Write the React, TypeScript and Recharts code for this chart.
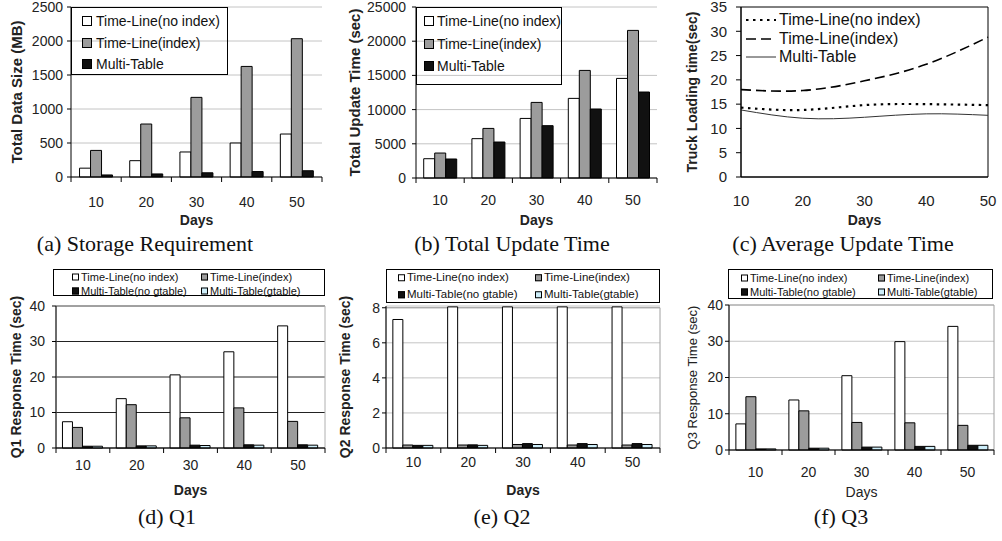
import {
  BarChart,
  Bar,
  LineChart,
  Line,
  XAxis,
  YAxis,
  CartesianGrid,
  ReferenceArea,
} from "recharts";

const FONT = '"Liberation Sans", Arial, Helvetica, sans-serif';
const SERIF = '"Liberation Serif", "Times New Roman", serif';

const WHITE = "#ffffff";
const GRAY = "#9c9c9c";
const BLACK = "#111111";
const BLUE = "#cdeefa";

const DAYS = ["10", "20", "30", "40", "50"];
const LINE_DAYS = [10, 20, 30, 40, 50];

// (a) storage requirement, MB
const sizeNoIndex = [130, 240, 368, 500, 632];
const sizeIndex = [391, 779, 1171, 1626, 2034];
const sizeMulti = [30, 45, 62, 80, 92];

// (b) total update time, sec
const updNoIndex = [2820, 5750, 8710, 11640, 14560];
const updIndex = [3650, 7250, 11050, 15730, 21580];
const updMulti = [2780, 5260, 7650, 10090, 12570];

// (c) truck loading time, sec
const truckNoIndex = [14.3, 13.8, 14.8, 15.0, 14.8];
const truckIndex = [18.0, 17.8, 19.8, 23.2, 28.8];
const truckMulti = [13.8, 12.1, 12.3, 13.0, 12.7];

// (d) Q1 response time, sec
const q1NoIndex = [7.4, 13.9, 20.6, 27.1, 34.4];
const q1Index = [5.8, 12.2, 8.5, 11.3, 7.5];
const q1NoGtable = [0.5, 0.6, 0.8, 0.9, 0.9];
const q1Gtable = [0.5, 0.6, 0.7, 0.8, 0.8];

// (e) Q2 response time, sec
const q2NoIndex = [7.33, 8.05, 8.05, 8.05, 8.05];
const q2Index = [0.17, 0.17, 0.2, 0.17, 0.17];
const q2NoGtable = [0.15, 0.18, 0.25, 0.25, 0.25];
const q2Gtable = [0.15, 0.15, 0.2, 0.2, 0.2];

// (f) Q3 response time, sec
const q3NoIndex = [7.2, 13.8, 20.5, 29.9, 34.1];
const q3Index = [14.7, 10.8, 7.6, 7.5, 6.8];
const q3NoGtable = [0.3, 0.5, 0.8, 1.0, 1.3];
const q3Gtable = [0.3, 0.5, 0.8, 1.0, 1.3];

const sizeTicks = [0, 500, 1000, 1500, 2000, 2500];
const updTicks = [0, 5000, 10000, 15000, 20000, 25000];
const truckTicks = [0, 5, 10, 15, 20, 25, 30, 35];
const q13Ticks = [0, 10, 20, 30, 40];
const q2Ticks = [0, 2, 4, 6, 8];

const SERIES3 = [
  { key: "noIndex", name: "Time-Line(no index)", fill: WHITE },
  { key: "index", name: "Time-Line(index)", fill: GRAY },
  { key: "multi", name: "Multi-Table", fill: BLACK },
];

const SERIES4 = [
  { key: "noIndex", name: "Time-Line(no index)", fill: WHITE },
  { key: "index", name: "Time-Line(index)", fill: GRAY },
  { key: "noGtable", name: "Multi-Table(no gtable)", fill: BLACK },
  { key: "gtable", name: "Multi-Table(gtable)", fill: BLUE },
];

function rows3(a: number[], b: number[], c: number[]) {
  return DAYS.map((day, i) => ({ day, noIndex: a[i], index: b[i], multi: c[i] }));
}

function rows4(a: number[], b: number[], c: number[], d: number[]) {
  return DAYS.map((day, i) => ({
    day,
    noIndex: a[i],
    index: b[i],
    noGtable: c[i],
    gtable: d[i],
  }));
}

const truckRows = LINE_DAYS.map((day, i) => ({
  day,
  noIndex: truckNoIndex[i],
  index: truckIndex[i],
  multi: truckMulti[i],
}));

// category label plus tick marks on the band edges
function BandTick(props: any) {
  const { x, y, payload, index, bw, nTicks, labelShift, tickFont } = props;
  const h = bw / 2;
  return (
    <g>
      <line x1={x - h} x2={x - h} y1={y} y2={y + 5} stroke="#000" />
      {index === nTicks - 1 && (
        <line x1={x + h} x2={x + h} y1={y} y2={y + 5} stroke="#000" />
      )}
      <text
        x={x}
        y={y + labelShift}
        dy="0.35em"
        textAnchor="middle"
        fontSize={tickFont}
        fill="#222"
      >
        {payload.value}
      </text>
    </g>
  );
}

interface BarPanelProps {
  left: number;
  top: number;
  width: number;
  plotLeft: number;
  plotRight: number;
  plotTop: number;
  plotBottom: number;
  daysBaseline: number;
  data: Record<string, string | number>[];
  series: { key: string; name: string; fill: string }[];
  yDomain: [number, number];
  yTicks: number[];
  yLabel: string;
  yLabelX: number;
  yLabelSize: number;
  bold: boolean;
  tickFont: number;
  tickGap: number;
  labelShift: number;
  gridColor: string;
  frameTop?: number;
  frameColor?: string;
  gap: string;
}

function BarPanel(p: BarPanelProps) {
  const bw = (p.plotRight - p.plotLeft) / p.data.length;
  const height = p.daysBaseline + 5;
  return (
    <div style={{ position: "absolute", left: p.left, top: p.top }}>
      <BarChart
        width={p.width}
        height={height}
        data={p.data}
        margin={{ top: p.plotTop, right: p.width - p.plotRight, left: 0, bottom: 0 }}
        barCategoryGap={p.gap}
        barGap={0}
      >
        <CartesianGrid vertical={false} stroke={p.gridColor} />
        {p.frameTop !== undefined && (
          <ReferenceArea
            y1={p.yDomain[0]}
            y2={p.frameTop}
            fill="none"
            fillOpacity={0}
            stroke={p.frameColor}
            ifOverflow="visible"
          />
        )}
        <XAxis
          dataKey="day"
          height={height - p.plotBottom}
          interval={0}
          tickLine={false}
          tickSize={0}
          tickMargin={0}
          axisLine={{ stroke: "#000" }}
          tick={
            <BandTick
              bw={bw}
              nTicks={p.data.length}
              labelShift={p.labelShift}
              tickFont={p.tickFont}
            />
          }
          label={{
            value: "Days",
            position: "insideBottom",
            offset: 5,
            style: {
              fontSize: 14,
              fontWeight: p.bold ? 700 : 400,
              fill: "#222",
            },
          }}
        />
        <YAxis
          width={p.plotLeft}
          domain={p.yDomain}
          ticks={p.yTicks}
          interval={0}
          tickSize={4}
          tickMargin={p.tickGap}
          axisLine={{ stroke: "#000" }}
          tickLine={{ stroke: "#000" }}
          tick={{ fill: "#222", fontSize: p.tickFont }}
          label={{
            value: p.yLabel,
            angle: -90,
            position: "insideLeft",
            offset: p.yLabelX,
            style: {
              textAnchor: "middle",
              fontSize: p.yLabelSize,
              fontWeight: p.bold ? 700 : 400,
              fill: "#222",
            },
          }}
        />
        {p.series.map((s) => (
          <Bar
            key={s.key}
            dataKey={s.key}
            name={s.name}
            fill={s.fill}
            stroke="#000"
            strokeWidth={1}
            isAnimationActive={false}
          />
        ))}
      </BarChart>
    </div>
  );
}

interface LegendProps {
  box: [number, number, number, number];
  items: { name: string; fill: string }[];
  colX: number[];
  rowY: number[];
  fontSize: number;
  swatch: number;
  gap: number;
}

function BoxLegend({ box, items, colX, rowY, fontSize, swatch, gap }: LegendProps) {
  return (
    <div
      style={{
        position: "absolute",
        left: box[0],
        top: box[1],
        width: box[2],
        height: box[3],
        border: "1px solid #000",
        boxSizing: "border-box",
        fontSize,
        color: "#111",
      }}
    >
      {items.map((it, i) => {
        const col = i % colX.length;
        const row = Math.floor(i / colX.length);
        return (
          <div
            key={it.name}
            style={{
              position: "absolute",
              left: colX[col],
              top: rowY[row],
              transform: "translateY(-50%)",
              display: "flex",
              alignItems: "center",
              whiteSpace: "nowrap",
              lineHeight: 1,
            }}
          >
            <span
              style={{
                display: "inline-block",
                width: swatch,
                height: swatch,
                background: it.fill,
                border: "1px solid #000",
                boxSizing: "border-box",
                marginRight: gap,
              }}
            />
            {it.name}
          </div>
        );
      })}
    </div>
  );
}

const LINE_STYLES = [
  { key: "noIndex", name: "Time-Line(no index)", dash: "2.5 4.5", width: 2.2, color: "#000" },
  { key: "index", name: "Time-Line(index)", dash: "10 5", width: 1.6, color: "#000" },
  { key: "multi", name: "Multi-Table", dash: undefined, width: 1, color: "#333" },
];

function TruckChart() {
  return (
    <div style={{ position: "absolute", left: 660, top: 0 }}>
      <LineChart
        width={342}
        height={230}
        data={truckRows}
        margin={{ top: 7, right: 14, left: 0, bottom: 0 }}
      >
        <ReferenceArea
          y1={0}
          y2={35}
          fill="none"
          fillOpacity={0}
          stroke="#000"
          ifOverflow="visible"
        />
        <XAxis
          dataKey="day"
          type="number"
          domain={[10, 50]}
          ticks={LINE_DAYS}
          height={53}
          tickLine={false}
          tickSize={0}
          tickMargin={18}
          axisLine={{ stroke: "#000" }}
          tick={{ fill: "#222", fontSize: 15 }}
          label={{
            value: "Days",
            position: "insideBottom",
            offset: 5,
            style: { fontSize: 14, fontWeight: 700, fill: "#222" },
          }}
        />
        <YAxis
          width={81}
          domain={[0, 35]}
          ticks={truckTicks}
          interval={0}
          tickSize={5}
          tickMargin={9}
          axisLine={{ stroke: "#000" }}
          tickLine={{ stroke: "#000" }}
          tick={{ fill: "#222", fontSize: 15 }}
          label={{
            value: "Truck Loading time(sec)",
            angle: -90,
            position: "insideLeft",
            offset: 32,
            style: { textAnchor: "middle", fontSize: 14, fontWeight: 700, fill: "#222" },
          }}
        />
        {LINE_STYLES.map((s) => (
          <Line
            key={s.key}
            type="natural"
            dataKey={s.key}
            name={s.name}
            stroke={s.color}
            strokeWidth={s.width}
            strokeDasharray={s.dash}
            dot={false}
            isAnimationActive={false}
          />
        ))}
      </LineChart>
      <div style={{ position: "absolute", left: 86, top: 11, fontSize: 16, color: "#111" }}>
        {LINE_STYLES.map((s) => (
          <div
            key={s.key}
            style={{ display: "flex", alignItems: "center", height: 18.5, whiteSpace: "nowrap" }}
          >
            <svg width={30} height={6} style={{ marginRight: 3 }}>
              <line
                x1={0}
                x2={30}
                y1={3}
                y2={3}
                stroke={s.color}
                strokeWidth={s.width}
                strokeDasharray={s.dash}
              />
            </svg>
            {s.name}
          </div>
        ))}
      </div>
    </div>
  );
}

function Caption({ text, cx, cy }: { text: string; cx: number; cy: number }) {
  return (
    <div
      style={{
        position: "absolute",
        left: cx - 150,
        top: cy - 11,
        width: 300,
        textAlign: "center",
        fontFamily: SERIF,
        fontSize: 22,
        lineHeight: "22px",
        color: "#111",
      }}
    >
      {text}
    </div>
  );
}

export default function App() {
  return (
    <div
      style={{
        position: "absolute",
        left: 0,
        top: 0,
        width: 1002,
        height: 541,
        background: "#fff",
        fontFamily: FONT,
        overflow: "hidden",
      }}
    >
      <BarPanel
        left={0}
        top={0}
        width={340}
        plotLeft={71}
        plotRight={322}
        plotTop={7}
        plotBottom={177}
        daysBaseline={225}
        data={rows3(sizeNoIndex, sizeIndex, sizeMulti)}
        series={SERIES3}
        yDomain={[0, 2500]}
        yTicks={sizeTicks}
        yLabel="Total Data Size (MB)"
        yLabelX={17}
        yLabelSize={15}
        bold
        tickFont={14}
        tickGap={4}
        labelShift={25}
        gridColor="#c4c4c4"
        gap="17%"
      />
      <BoxLegend
        box={[71, 7, 157, 68]}
        items={SERIES3}
        colX={[10]}
        rowY={[13, 35, 56]}
        fontSize={14}
        swatch={10}
        gap={4}
      />

      <BarPanel
        left={330}
        top={0}
        width={340}
        plotLeft={86}
        plotRight={327}
        plotTop={7}
        plotBottom={178}
        daysBaseline={225}
        data={rows3(updNoIndex, updIndex, updMulti)}
        series={SERIES3}
        yDomain={[0, 25000]}
        yTicks={updTicks}
        yLabel="Total Update Time (sec)"
        yLabelX={25}
        yLabelSize={15}
        bold
        tickFont={14}
        tickGap={6}
        labelShift={22}
        gridColor="#c4c4c4"
        gap="16%"
      />
      <BoxLegend
        box={[416, 7, 146, 78]}
        items={SERIES3}
        colX={[7]}
        rowY={[13, 36, 58]}
        fontSize={14}
        swatch={10}
        gap={3}
      />

      <TruckChart />

      <BarPanel
        left={0}
        top={260}
        width={340}
        plotLeft={56}
        plotRight={325}
        plotTop={46}
        plotBottom={188}
        daysBaseline={235}
        data={rows4(q1NoIndex, q1Index, q1NoGtable, q1Gtable)}
        series={SERIES4}
        yDomain={[0, 40]}
        yTicks={q13Ticks}
        yLabel="Q1 Response Time (sec)"
        yLabelX={16}
        yLabelSize={14}
        bold
        tickFont={14}
        tickGap={7}
        labelShift={17}
        gridColor="#222"
        frameTop={40}
        frameColor="#b0b0b0"
        gap="12%"
      />
      <BoxLegend
        box={[53, 269, 272, 27]}
        items={SERIES4}
        colX={[18, 147]}
        rowY={[7, 21]}
        fontSize={11}
        swatch={7}
        gap={2}
      />

      <BarPanel
        left={330}
        top={260}
        width={340}
        plotLeft={56}
        plotRight={330}
        plotTop={46}
        plotBottom={188}
        daysBaseline={235}
        data={rows4(q2NoIndex, q2Index, q2NoGtable, q2Gtable)}
        series={SERIES4}
        yDomain={[0, 8.1]}
        yTicks={q2Ticks}
        yLabel="Q2 Response Time (sec)"
        yLabelX={15}
        yLabelSize={14}
        bold
        tickFont={14}
        tickGap={2}
        labelShift={14}
        gridColor="#c4c4c4"
        frameTop={8}
        frameColor="#a0a0a0"
        gap="12.5%"
      />
      <BoxLegend
        box={[386, 269, 274, 34]}
        items={SERIES4}
        colX={[11, 148]}
        rowY={[8, 25]}
        fontSize={11.5}
        swatch={7}
        gap={2}
      />

      <BarPanel
        left={660}
        top={260}
        width={342}
        plotLeft={69}
        plotRight={334}
        plotTop={45}
        plotBottom={190}
        daysBaseline={237}
        data={rows4(q3NoIndex, q3Index, q3NoGtable, q3Gtable)}
        series={SERIES4}
        yDomain={[0, 40]}
        yTicks={q13Ticks}
        yLabel="Q3 Response  Time (sec)"
        yLabelX={32}
        yLabelSize={13}
        bold={false}
        tickFont={14}
        tickGap={2}
        labelShift={22}
        gridColor="#c4c4c4"
        frameTop={40}
        frameColor="#a0a0a0"
        gap="13%"
      />
      <BoxLegend
        box={[728, 269, 265, 30]}
        items={SERIES4}
        colX={[12, 149]}
        rowY={[8, 22]}
        fontSize={11}
        swatch={7}
        gap={2}
      />

      <Caption text="(a) Storage Requirement" cx={145} cy={244} />
      <Caption text="(b) Total Update Time" cx={512} cy={244} />
      <Caption text="(c) Average Update Time" cx={843} cy={244} />
      <Caption text="(d) Q1" cx={167} cy={517} />
      <Caption text="(e) Q2" cx={502} cy={517} />
      <Caption text="(f) Q3" cx={841} cy={517} />
    </div>
  );
}
